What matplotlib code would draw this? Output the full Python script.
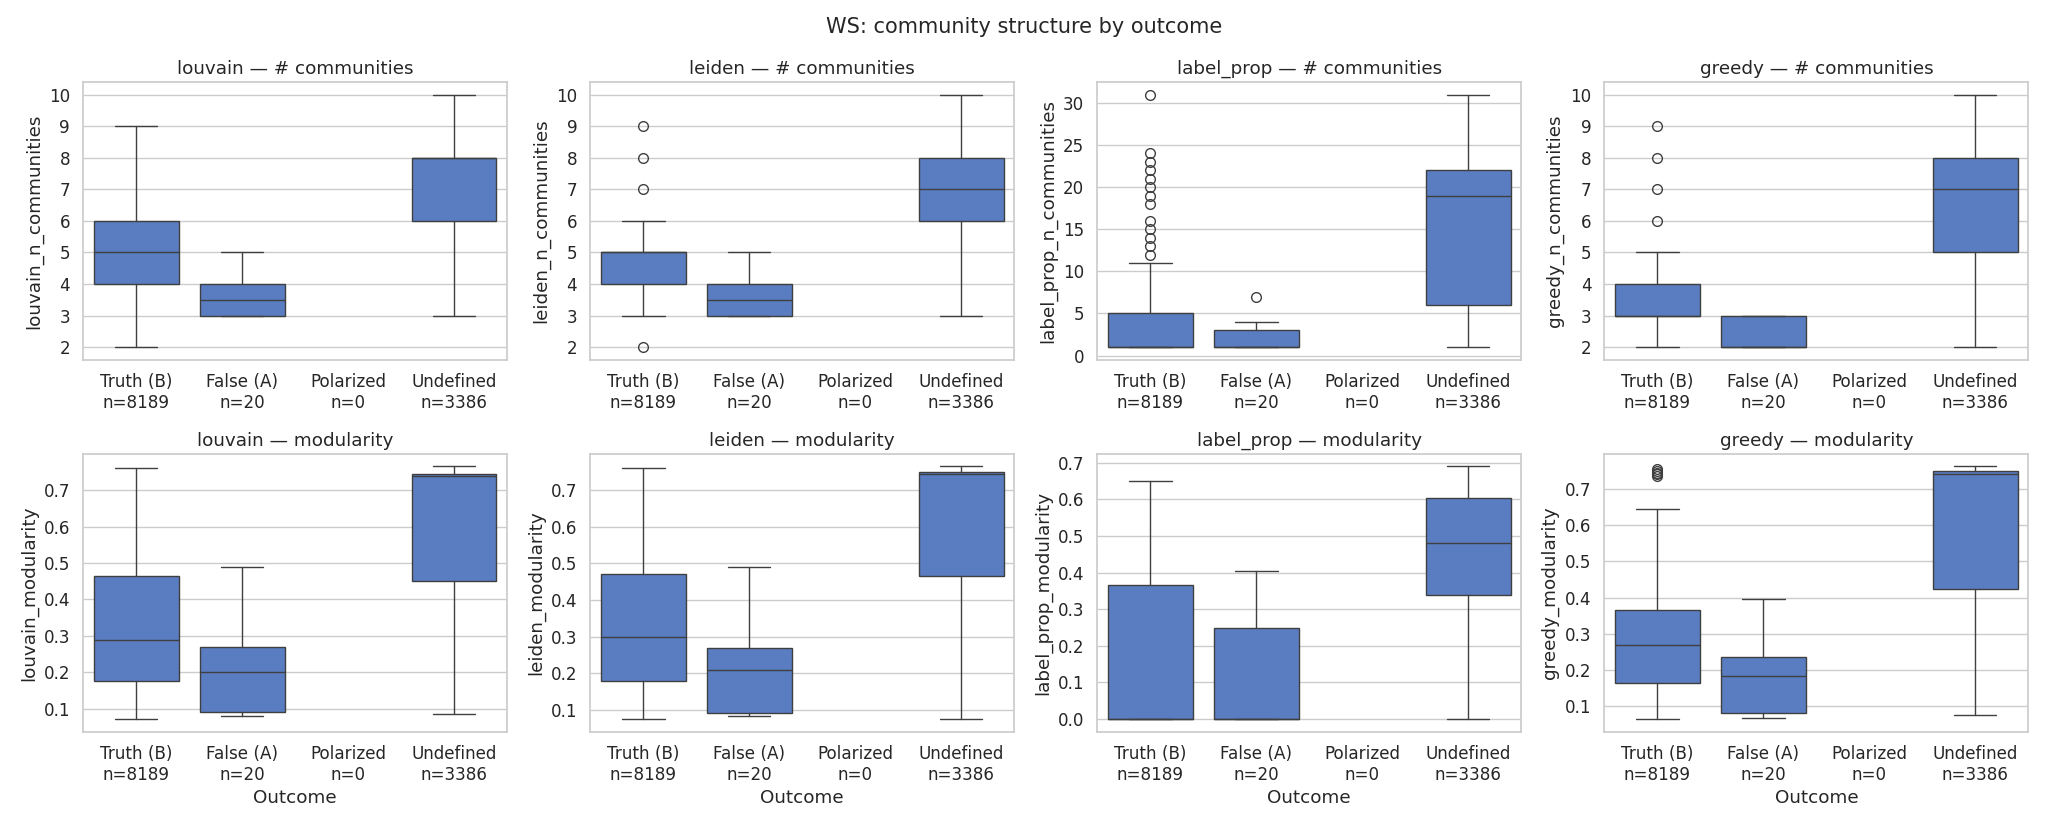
import matplotlib
matplotlib.use("Agg")
import matplotlib.pyplot as plt
import seaborn as sns

sns.set_theme(style="whitegrid", font_scale=1.1)

categories = ["Truth (B)", "False (A)", "Polarized", "Undefined"]
counts = [8189, 20, 0, 3386]
methods = ["louvain", "leiden", "label_prop", "greedy"]

# stats per method: list over categories of (whislo, q1, med, q3, whishi, fliers) or None
ncomm = {
    "louvain": [(2, 4, 5, 6, 9, []), (3, 3, 3.5, 4, 5, []), None, (3, 6, 8, 8, 10, [])],
    "leiden": [(3, 4, 5, 5, 6, [2, 7, 8, 9]), (3, 3, 3.5, 4, 5, []), None, (3, 6, 7, 8, 10, [])],
    "label_prop": [(1, 1, 1, 5, 11, [12, 13, 14, 15, 16, 18, 19, 20, 21, 22, 23, 24, 31]),
                   (1, 1, 1, 3, 4, [7]), None, (1, 6, 19, 22, 31, [])],
    "greedy": [(2, 3, 3, 4, 5, [6, 7, 8, 9]), (2, 2, 2, 3, 3, []), None, (2, 5, 7, 8, 10, [])],
}
modul = {
    "louvain": [(0.072, 0.175, 0.29, 0.465, 0.76, []), (0.08, 0.09, 0.2, 0.27, 0.49, []), None,
                (0.085, 0.45, 0.74, 0.745, 0.765, [])],
    "leiden": [(0.075, 0.18, 0.30, 0.47, 0.76, []), (0.082, 0.092, 0.21, 0.27, 0.49, []), None,
               (0.075, 0.465, 0.745, 0.75, 0.765, [])],
    "label_prop": [(0, 0, 0, 0.365, 0.65, []), (0, 0, 0, 0.25, 0.405, []), None,
                   (0, 0.34, 0.48, 0.605, 0.69, [])],
    "greedy": [(0.065, 0.165, 0.27, 0.365, 0.645, [0.735, 0.74, 0.745, 0.75, 0.755]),
               (0.068, 0.083, 0.185, 0.235, 0.395, []), None,
               (0.075, 0.425, 0.74, 0.75, 0.762, [])],
}

box_color = "#5A7DC2"
line_color = "#3f3f3f"
fig, axes = plt.subplots(2, 4, figsize=(20.48, 8.27), dpi=100)
ticklabels = [f"{c}\nn={n}" for c, n in zip(categories, counts)]

def draw(ax, stats_list):
    stats, pos = [], []
    for i, s in enumerate(stats_list):
        if s is None:
            continue
        lo, q1, med, q3, hi, fl = s
        stats.append(dict(whislo=lo, q1=q1, med=med, q3=q3, whishi=hi, fliers=fl))
        pos.append(i)
    ax.bxp(stats, positions=pos, widths=0.8, patch_artist=True, showfliers=True,
           boxprops=dict(facecolor=box_color, edgecolor=line_color, linewidth=1),
           medianprops=dict(color=line_color, linewidth=1),
           whiskerprops=dict(color=line_color, linewidth=1),
           capprops=dict(color=line_color, linewidth=1),
           flierprops=dict(marker="o", markerfacecolor="none", markeredgecolor=line_color,
                           markersize=7, linewidth=0),
           capwidths=0.4)
    ax.set_xlim(-0.5, 3.5)
    ax.set_xticks(range(4))
    ax.set_xticklabels(ticklabels)
    ax.grid(axis="x", visible=False)

for j, m in enumerate(methods):
    ax = axes[0, j]
    draw(ax, ncomm[m])
    ax.set_title(f"{m} — # communities")
    ax.set_ylabel(f"{m}_n_communities")
    if m != "label_prop":
        ax.set_yticks(range(2, 11))
    ax = axes[1, j]
    draw(ax, modul[m])
    ax.set_title(f"{m} — modularity")
    ax.set_ylabel(f"{m}_modularity")
    ax.set_xlabel("Outcome")
    if m != "label_prop":
        ax.set_yticks([0.1, 0.2, 0.3, 0.4, 0.5, 0.6, 0.7])

fig.suptitle("WS: community structure by outcome", fontsize=15)
fig.tight_layout()
fig.savefig("out.png")
